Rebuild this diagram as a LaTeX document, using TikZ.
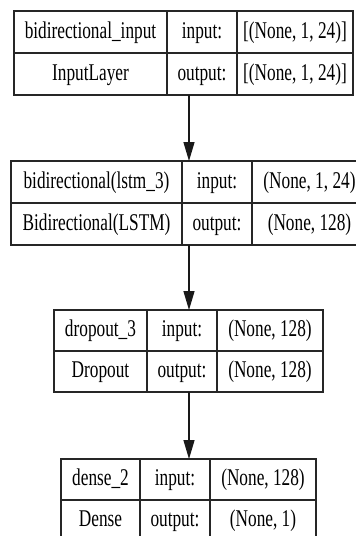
\documentclass[tikz,border=0pt]{standalone}
\usepackage{fontspec}
\setmainfont[FakeStretch=0.72]{Liberation Serif}
\usetikzlibrary{arrows.meta}
\tikzset{
  cell/.style={draw=black!85, line width=1.3pt, inner sep=0pt, outer sep=0pt,
    text height=17pt, text depth=5pt, font=\fontsize{24}{28}\selectfont},
  layerbox/.style={draw=black!85, line width=1.3pt, inner sep=0pt, outer sep=0pt},
  link/.style={draw=black!90, line width=1.3pt, -{Triangle[length=19pt,width=11pt]}}
}
% name, x-left, x-right, y-top, y-bottom, text
\newcommand\mycell[6]{%
  \node[cell, minimum width={#3-#2}, minimum height={#5-#4}] (#1) at ({(#2+#3)/2},{(#4+#5)/2}) {#6};}
\newcommand\mybox[5]{%
  \node[layerbox, minimum width={#3-#2}, minimum height={#5-#4}] (#1) at ({(#2+#3)/2},{(#4+#5)/2}) {};}
\begin{document}
\begin{tikzpicture}[x=1pt,y=-1pt]
\useasboundingbox (0,0) rectangle (356,536);
\clip (0,0) rectangle (356,536);
\fill[white] (0,0) rectangle (356,536);
\coordinate (ax) at (189,0);

% Layer 1
\mybox{L1}{14}{353}{11}{95}
\mycell{L1a}{14}{167}{11}{53}{bidirectional\_input}
\mycell{L1b}{167}{237}{11}{53}{input:}
\mycell{L1c}{237}{353}{11}{53}{[(None, 1, 24)]}
\mycell{L1d}{14}{167}{53}{95}{InputLayer}
\mycell{L1e}{167}{237}{53}{95}{output:}
\mycell{L1f}{237}{353}{53}{95}{[(None, 1, 24)]}

% Layer 2
\mybox{L2}{11}{367}{161}{245}
\mycell{L2a}{11}{182}{161}{203}{bidirectional(lstm\_3)}
\mycell{L2b}{182}{252}{161}{203}{input:}
\mycell{L2c}{252}{367}{161}{203}{(None, 1, 24)}
\mycell{L2d}{11}{182}{203}{245}{Bidirectional(LSTM)}
\mycell{L2e}{182}{252}{203}{245}{output:}
\mycell{L2f}{252}{367}{203}{245}{(None, 128)}

% Layer 3
\mybox{L3}{54}{323}{310}{392}
\mycell{L3a}{54}{147}{310}{351}{dropout\_3}
\mycell{L3b}{147}{217}{310}{351}{input:}
\mycell{L3c}{217}{323}{310}{351}{(None, 128)}
\mycell{L3d}{54}{147}{351}{392}{Dropout}
\mycell{L3e}{147}{217}{351}{392}{output:}
\mycell{L3f}{217}{323}{351}{392}{(None, 128)}

% Layer 4
\mybox{L4}{61}{316}{459}{541}
\mycell{L4a}{61}{140}{459}{500}{dense\_2}
\mycell{L4b}{140}{210}{459}{500}{input:}
\mycell{L4c}{210}{316}{459}{500}{(None, 128)}
\mycell{L4d}{61}{140}{500}{541}{Dense}
\mycell{L4e}{140}{210}{500}{541}{output:}
\mycell{L4f}{210}{316}{500}{541}{(None, 1)}

\draw[link] (L1.south -| ax) -- (L2.north -| ax);
\draw[link] (L2.south -| ax) -- (L3.north -| ax);
\draw[link] (L3.south -| ax) -- (L4.north -| ax);
\end{tikzpicture}
\end{document}
